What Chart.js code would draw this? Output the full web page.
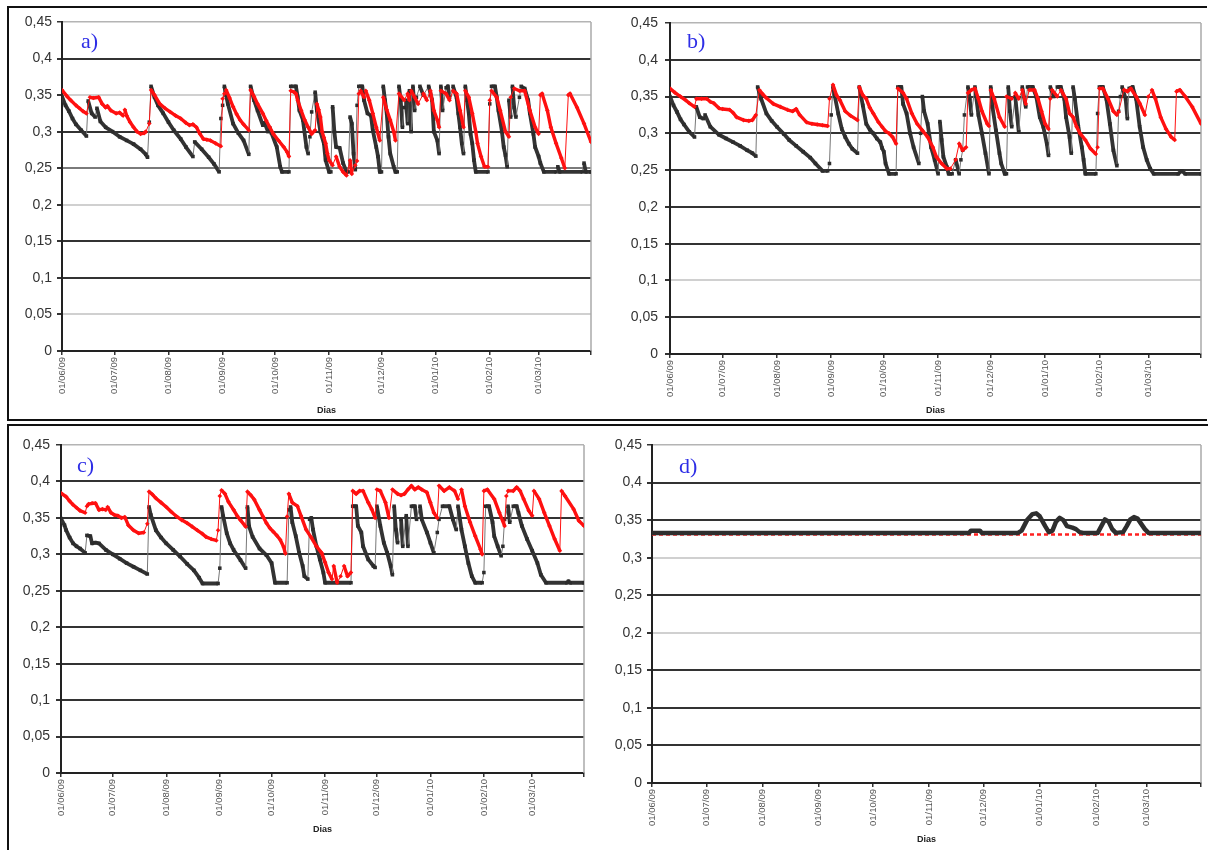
<!DOCTYPE html>
<html>
<head>
<meta charset="utf-8">
<script src="https://cdn.jsdelivr.net/npm/chart.js@4.4.0/dist/chart.umd.min.js"></script>
<style>
  body { margin: 0; background: #fff; width: 1208px; height: 850px; position: relative; overflow: hidden; }
  .frame { position: absolute; border: 0 solid #111; }
  canvas { position: absolute; }
  .tag { position: absolute; font-family: 'Liberation Serif', 'Times New Roman', serif; font-size: 22px; line-height: 1; color: #2e2ee6; }
</style>
</head>
<body>
<div class="frame" style="left:7px;top:6px;width:1198px;height:411px;border-width:2px 0 2px 2px"></div>
<div class="frame" style="left:7px;top:424px;width:1201px;height:430px;border-width:2px 0 0 2px"></div>

<canvas id="chartA" width="590" height="409" style="left:10px;top:9px"></canvas>
<canvas id="chartB" width="603" height="409" style="left:602px;top:9px"></canvas>
<canvas id="chartC" width="590" height="421" style="left:10px;top:427px"></canvas>
<canvas id="chartD" width="603" height="421" style="left:602px;top:427px"></canvas>

<div class="tag" style="left:81px;top:30px">a)</div>
<div class="tag" style="left:687px;top:30px">b)</div>
<div class="tag" style="left:77px;top:454px">c)</div>
<div class="tag" style="left:679px;top:455px">d)</div>

<script>
// days counted from 01/06/09, last day 31/03/10
const monthLabels = ['01/06/09', '01/07/09', '01/08/09', '01/09/09', '01/10/09', '01/11/09', '01/12/09', '01/01/10', '01/02/10', '01/03/10'];
const monthStart = [0, 30, 61, 92, 122, 153, 183, 214, 245, 273];
const lastDay = 303;
const yTicks = [0, 0.05, 0.1, 0.15, 0.2, 0.25, 0.3, 0.35, 0.4, 0.45];

// [day, value]
const aBlack = [[0,.348],[2,.336],[4,.328],[6,.318],[8,.31],[11,.302],[14,.294],[15,.342],[17,.325],[19,.32],[20,.332],[22,.314],[25,.306],[29,.3],[33,.293],[37,.288],[41,.283],[45,.276],[48,.269],[49,.265],[50,.313],[51,.362],[53,.347],[55,.336],[58,.325],[61,.313],[64,.302],[68,.29],[71,.279],[75,.266],[76,.286],[80,.276],[84,.265],[87,.256],[90,.245],[91,.318],[92,.336],[93,.362],[94,.35],[95,.338],[98,.311],[101,.298],[104,.288],[107,.269],[108,.362],[110,.343],[112,.329],[115,.309],[116,.312],[118,.3],[119,.305],[120,.298],[123,.279],[125,.252],[126,.245],[130,.245],[131,.362],[134,.362],[135,.347],[136,.329],[138,.316],[140,.279],[141,.27],[142,.293],[143,.327],[145,.354],[146,.329],[148,.3],[150,.284],[151,.261],[153,.245],[154,.245],[155,.334],[156,.3],[157,.279],[159,.278],[161,.257],[163,.245],[164,.245],[165,.32],[166,.311],[167,.27],[168,.248],[169,.336],[170,.362],[172,.362],[173,.343],[175,.325],[177,.322],[178,.302],[180,.279],[181,.266],[182,.245],[183,.245],[184,.362],[185,.343],[186,.325],[187,.293],[188,.27],[190,.252],[191,.245],[192,.245],[193,.362],[194,.343],[195,.306],[196,.333],[197,.343],[198,.311],[199,.356],[200,.3],[201,.362],[202,.329],[203,.347],[205,.362],[207,.35],[210,.362],[212,.343],[213,.3],[215,.288],[216,.27],[217,.362],[218,.329],[220,.36],[221,.362],[222,.347],[224,.362],[226,.347],[227,.325],[228,.306],[229,.284],[230,.27],[231,.362],[232,.343],[233,.325],[234,.297],[235,.284],[236,.261],[237,.245],[244,.245],[245,.338],[246,.362],[248,.362],[249,.347],[250,.329],[252,.3],[253,.279],[254,.268],[255,.252],[256,.343],[257,.32],[258,.362],[259,.333],[260,.32],[262,.347],[263,.362],[265,.359],[267,.343],[268,.325],[270,.297],[271,.279],[273,.266],[274,.257],[276,.245],[283,.245],[284,.252],[285,.245],[298,.245],[299,.257],[300,.245],[303,.245]];
const aRed = [[0,.357],[3,.348],[5,.343],[8,.336],[10,.332],[12,.328],[14,.325],[16,.347],[18,.346],[21,.347],[23,.338],[25,.333],[26,.335],[28,.329],[31,.325],[33,.326],[35,.322],[36,.33],[37,.322],[39,.313],[41,.306],[43,.3],[45,.297],[47,.298],[48,.3],[50,.311],[51,.357],[53,.35],[56,.338],[59,.332],[62,.327],[65,.322],[68,.318],[71,.312],[73,.309],[75,.31],[77,.306],[79,.297],[81,.29],[83,.289],[85,.288],[88,.284],[91,.28],[92,.345],[93,.352],[94,.357],[96,.346],[98,.334],[100,.324],[102,.316],[104,.31],[107,.302],[108,.357],[110,.348],[112,.338],[115,.325],[117,.315],[119,.306],[121,.297],[124,.288],[127,.279],[129,.272],[130,.266],[131,.356],[133,.354],[134,.352],[135,.343],[137,.329],[139,.316],[141,.306],[143,.297],[145,.302],[146,.338],[147,.33],[148,.32],[149,.3],[150,.292],[151,.284],[152,.27],[153,.261],[155,.254],[157,.266],[159,.252],[161,.245],[163,.24],[165,.261],[166,.242],[168,.254],[169,.26],[170,.352],[171,.356],[173,.347],[174,.356],[176,.343],[178,.325],[180,.306],[182,.288],[184,.347],[186,.33],[188,.316],[190,.3],[191,.288],[193,.352],[196,.343],[198,.352],[199,.343],[200,.356],[202,.347],[204,.338],[207,.352],[209,.343],[211,.356],[213,.329],[215,.316],[216,.306],[217,.356],[220,.352],[222,.343],[224,.356],[226,.352],[228,.329],[230,.306],[231,.356],[233,.347],[235,.325],[237,.3],[238,.284],[240,.266],[242,.252],[244,.252],[245,.343],[246,.356],[249,.347],[251,.329],[254,.3],[256,.293],[257,.347],[259,.359],[262,.356],[265,.356],[268,.329],[271,.306],[273,.297],[274,.35],[275,.352],[278,.329],[280,.306],[283,.284],[286,.264],[288,.25],[290,.35],[291,.352],[295,.333],[299,.311],[303,.286]];

const bBlack = [[0,.35],[2,.338],[4,.329],[6,.319],[8,.312],[11,.302],[14,.295],[15,.336],[17,.322],[19,.32],[20,.325],[23,.309],[28,.298],[32,.293],[36,.288],[40,.283],[44,.277],[47,.273],[49,.269],[50,.363],[52,.347],[55,.327],[58,.317],[61,.309],[65,.299],[68,.291],[72,.283],[76,.275],[80,.267],[83,.259],[87,.249],[90,.249],[91,.259],[92,.325],[93,.363],[94,.351],[96,.327],[98,.306],[100,.295],[102,.286],[104,.279],[107,.273],[108,.363],[109,.351],[110,.338],[112,.313],[114,.305],[116,.3],[118,.293],[120,.288],[121,.28],[122,.275],[123,.259],[125,.245],[129,.245],[130,.363],[132,.363],[133,.34],[135,.327],[137,.3],[139,.281],[142,.259],[143,.3],[144,.35],[145,.33],[147,.313],[149,.281],[151,.264],[153,.245],[154,.316],[155,.291],[156,.268],[158,.254],[159,.245],[161,.245],[163,.264],[165,.245],[166,.264],[167,.277],[168,.325],[170,.363],[171,.347],[172,.325],[174,.363],[176,.325],[178,.3],[180,.273],[182,.245],[183,.363],[184,.336],[186,.304],[188,.273],[189,.259],[191,.245],[192,.245],[193,.363],[194,.33],[195,.309],[197,.35],[199,.302],[201,.363],[203,.336],[204,.363],[207,.363],[209,.35],[211,.322],[213,.309],[215,.286],[216,.27],[217,.363],[219,.35],[221,.363],[223,.363],[225,.347],[226,.322],[228,.295],[229,.273],[230,.363],[231,.347],[233,.309],[235,.281],[236,.264],[237,.245],[243,.245],[244,.327],[245,.363],[247,.363],[249,.347],[251,.313],[253,.277],[255,.256],[256,.33],[257,.35],[258,.363],[260,.347],[261,.32],[262,.361],[264,.363],[266,.347],[268,.309],[270,.281],[272,.264],[274,.252],[276,.245],[290,.245],[292,.249],[294,.245],[303,.245]];
const bRed = [[0,.361],[3,.355],[6,.35],[9,.345],[11,.341],[14,.336],[15,.347],[18,.347],[21,.347],[23,.343],[25,.341],[28,.334],[30,.333],[34,.332],[36,.328],[38,.322],[42,.318],[45,.317],[47,.318],[49,.325],[51,.359],[53,.353],[55,.348],[59,.34],[63,.336],[67,.332],[70,.33],[72,.333],[74,.325],[78,.315],[81,.313],[84,.312],[87,.311],[90,.31],[91,.347],[93,.366],[95,.352],[97,.345],[100,.33],[103,.324],[107,.318],[108,.363],[110,.352],[112,.347],[114,.335],[116,.327],[119,.315],[121,.309],[123,.303],[125,.3],[127,.295],[129,.286],[130,.361],[133,.355],[135,.347],[138,.327],[141,.313],[144,.304],[147,.295],[150,.281],[152,.268],[155,.259],[158,.252],[160,.252],[163,.264],[165,.286],[167,.277],[169,.281],[170,.355],[172,.359],[174,.361],[176,.347],[178,.33],[181,.313],[182,.31],[183,.359],[185,.347],[188,.322],[191,.309],[192,.35],[195,.347],[197,.355],[199,.347],[201,.359],[203,.34],[205,.359],[208,.359],[210,.347],[212,.33],[214,.313],[216,.306],[217,.347],[218,.359],[221,.35],[223,.359],[226,.347],[228,.327],[230,.322],[232,.309],[234,.3],[237,.291],[240,.279],[243,.272],[244,.281],[245,.361],[247,.361],[250,.347],[253,.33],[255,.325],[256,.329],[259,.359],[261,.357],[263,.361],[266,.35],[268,.341],[271,.325],[273,.35],[275,.359],[277,.347],[280,.322],[283,.306],[286,.295],[288,.291],[289,.357],[291,.359],[294,.35],[298,.336],[303,.313]];

const cBlack = [[0,.349],[2,.34],[3,.333],[5,.323],[7,.315],[9,.311],[11,.308],[14,.302],[15,.326],[17,.325],[18,.315],[20,.316],[22,.315],[26,.306],[30,.3],[34,.294],[38,.288],[42,.283],[46,.278],[50,.273],[51,.365],[52,.354],[55,.333],[58,.323],[61,.315],[65,.306],[69,.297],[73,.287],[77,.278],[80,.268],[82,.26],[91,.26],[92,.281],[93,.365],[94,.352],[96,.329],[98,.315],[100,.306],[104,.292],[107,.281],[108,.365],[109,.338],[111,.324],[115,.308],[119,.299],[122,.288],[124,.261],[131,.261],[132,.361],[133,.365],[134,.344],[136,.325],[138,.302],[140,.284],[141,.27],[143,.266],[144,.348],[145,.35],[146,.334],[148,.311],[150,.293],[152,.275],[153,.261],[168,.261],[169,.366],[171,.366],[172,.339],[174,.33],[175,.311],[178,.293],[181,.284],[182,.282],[183,.366],[185,.339],[187,.316],[189,.302],[191,.284],[192,.272],[193,.366],[194,.334],[195,.316],[197,.348],[198,.311],[200,.353],[201,.311],[203,.366],[205,.366],[206,.348],[208,.366],[209,.348],[212,.33],[214,.316],[216,.302],[218,.33],[219,.348],[221,.366],[225,.366],[227,.348],[229,.334],[230,.366],[232,.334],[234,.311],[236,.288],[238,.27],[240,.261],[244,.261],[245,.275],[246,.366],[248,.366],[250,.344],[251,.325],[253,.311],[255,.298],[256,.311],[257,.348],[259,.366],[260,.344],[262,.366],[264,.366],[265,.357],[267,.339],[270,.321],[273,.305],[276,.288],[278,.272],[281,.261],[293,.261],[294,.263],[295,.261],[303,.261]];
const cRed = [[0,.384],[3,.379],[5,.373],[7,.368],[9,.364],[11,.36],[14,.357],[15,.366],[16,.369],[18,.37],[20,.37],[22,.361],[24,.362],[26,.361],[27,.365],[29,.357],[31,.354],[33,.353],[35,.35],[37,.351],[39,.34],[42,.333],[45,.329],[48,.33],[50,.342],[51,.386],[53,.382],[55,.377],[58,.371],[61,.365],[64,.358],[67,.352],[70,.347],[73,.343],[76,.338],[79,.333],[82,.328],[84,.324],[87,.321],[90,.319],[91,.333],[92,.38],[93,.388],[95,.383],[97,.372],[100,.361],[102,.353],[104,.347],[107,.338],[108,.386],[110,.381],[112,.375],[115,.361],[117,.352],[119,.343],[121,.336],[123,.331],[125,.326],[127,.32],[129,.31],[130,.301],[131,.352],[132,.383],[134,.371],[137,.366],[139,.353],[142,.334],[145,.323],[148,.311],[151,.302],[153,.289],[155,.275],[157,.266],[158,.284],[160,.261],[162,.27],[164,.284],[166,.27],[168,.275],[169,.387],[171,.383],[173,.387],[175,.387],[178,.371],[180,.362],[182,.35],[183,.389],[185,.387],[188,.371],[190,.35],[192,.389],[195,.383],[197,.381],[199,.383],[201,.389],[203,.394],[205,.389],[207,.392],[209,.389],[212,.385],[214,.371],[216,.357],[218,.35],[219,.394],[222,.387],[225,.392],[228,.387],[230,.376],[232,.389],[234,.366],[237,.344],[240,.325],[243,.307],[244,.3],[245,.387],[247,.389],[251,.376],[254,.357],[257,.339],[258,.38],[259,.387],[262,.387],[264,.392],[266,.387],[268,.376],[271,.36],[273,.353],[274,.387],[277,.376],[280,.357],[283,.339],[286,.321],[289,.305],[290,.387],[292,.38],[297,.362],[300,.346],[303,.339]];

const dBlack = [[0,.333],[175,.333],[176,.336],[181,.336],[182,.333],[202,.333],[204,.336],[207,.35],[210,.358],[212,.359],[214,.355],[217,.342],[219,.334],[221,.336],[223,.348],[225,.353],[227,.35],[229,.342],[232,.34],[234,.338],[236,.334],[238,.333],[246,.333],[248,.342],[250,.351],[252,.348],[254,.338],[256,.333],[260,.334],[262,.342],[264,.351],[266,.354],[268,.352],[270,.345],[272,.338],[274,.333],[303,.333]];
const dRed = [[0,.331],[303,.331]];

Chart.defaults.font.family = "'Liberation Sans', Arial, sans-serif";

const toPoints = arr => arr.map(([x, y]) => ({ x, y }));

// rising jumps are drawn thin, the dense marker runs thick
const byRise = (thin, thick) => ctx => {
    const slope = (ctx.p1.parsed.y - ctx.p0.parsed.y) / (ctx.p1.parsed.x - ctx.p0.parsed.x);
    return slope > 0.004 ? thin : thick;
};

const plotFrame = {
    id: 'plotFrame',
    beforeDatasetsDraw(chart) {
        const { ctx, chartArea: a } = chart;
        ctx.save();
        ctx.strokeStyle = '#aaa';
        ctx.lineWidth = 1.5;
        ctx.beginPath();
        ctx.moveTo(a.right, a.top);
        ctx.lineTo(a.right, a.bottom);
        ctx.stroke();
        ctx.restore();
    }
};

function markerSets(black, red) {
    return [{
        data: toPoints(red),
        borderColor: '#ff1010',
        backgroundColor: '#ff1010',
        pointStyle: 'rectRot',
        pointRadius: 2.3,
        pointBorderWidth: 0,
        segment: { borderWidth: byRise(1, 3.4) }
    }, {
        data: toPoints(black),
        borderColor: '#555',
        backgroundColor: '#2c2c2c',
        pointStyle: 'rect',
        pointRadius: 2.5,
        pointBorderWidth: 0,
        segment: { borderWidth: byRise(1, 3.8), borderColor: byRise('#777', '#333') }
    }];
}

function flatSets(black, red) {
    return [{
        data: toPoints(black),
        borderColor: '#2e2e2e',
        borderWidth: 4.5,
        pointRadius: 0
    }, {
        data: toPoints(red),
        borderColor: '#ff2020',
        borderWidth: 2.5,
        borderDash: [4, 3],
        pointRadius: 0
    }];
}

const panels = [
    { id: 'chartA', sets: markerSets(aBlack, aRed), yWidth: 52, xHeight: 67, pad: { top: 13, right: 9, bottom: 0, left: 0 }, labelPad: 5, light: [0.05, 0.2, 0.35], mid: [0.25] },
    { id: 'chartB', sets: markerSets(bBlack, bRed), yWidth: 68, xHeight: 64, pad: { top: 14, right: 2, bottom: 0, left: 0 }, labelPad: 7, light: [0.1], mid: [] },
    { id: 'chartC', sets: markerSets(cBlack, cRed), yWidth: 51, xHeight: 64, pad: { top: 18, right: 16, bottom: 11, left: 0 }, labelPad: 6, light: [], mid: [] },
    { id: 'chartD', sets: flatSets(dBlack, dRed), yWidth: 50, xHeight: 64, pad: { top: 18, right: 4, bottom: 1, left: 0 }, labelPad: 5, light: [0.2, 0.3], mid: [] }
];

function gridShade(p, value) {
    const v = Math.round(value * 100) / 100;
    if (v === 0.45) return '#b4b4b4';
    if (p.light.includes(v)) return '#d0d0d0';
    if (p.mid.includes(v)) return '#7a7a7a';
    return '#333';
}

panels.forEach(p => {
    new Chart(document.getElementById(p.id), {
        type: 'line',
        data: { datasets: p.sets },
        options: {
            responsive: false,
            animation: false,
            devicePixelRatio: 1,
            events: [],
            layout: { padding: p.pad },
            elements: { line: { tension: 0, borderJoinStyle: 'round' } },
            plugins: { legend: { display: false }, tooltip: { enabled: false } },
            scales: {
                x: {
                    type: 'linear',
                    min: 0,
                    max: lastDay,
                    afterBuildTicks: s => { s.ticks = monthStart.concat([lastDay]).map(v => ({ value: v })); },
                    afterFit: s => {
                        s.height = p.xHeight;
                        s.paddingLeft = 0;
                        s.paddingRight = 0;
                    },
                    ticks: {
                        autoSkip: false,
                        minRotation: 90,
                        maxRotation: 90,
                        padding: 2,
                        color: '#555',
                        font: { size: 9.5 },
                        callback: v => {
                            const i = monthStart.indexOf(v);
                            return i < 0 ? '' : monthLabels[i];
                        }
                    },
                    grid: { drawOnChartArea: false, tickLength: 4, color: '#333', lineWidth: 1.5 },
                    border: { color: '#222', width: 2 },
                    title: { display: true, text: 'Dias', color: '#222', font: { size: 9, weight: 'bold' }, padding: { top: 0, bottom: 2 } }
                },
                y: {
                    min: 0,
                    max: 0.45,
                    afterBuildTicks: s => { s.ticks = yTicks.map(v => ({ value: v })); },
                    afterFit: s => {
                        s.width = p.yWidth;
                        s.paddingTop = 0;
                        s.paddingBottom = 0;
                    },
                    ticks: {
                        color: '#333',
                        font: { size: 14 },
                        padding: p.labelPad,
                        callback: v => String(Math.round(v * 100) / 100).replace('.', ',')
                    },
                    grid: {
                        color: ctx => gridShade(p, ctx.tick.value),
                        lineWidth: ctx => (Math.round(ctx.tick.value * 100) === 45 ? 1.5 : 2),
                        tickColor: '#333',
                        tickLength: 5
                    },
                    border: { color: '#222', width: 2 }
                }
            }
        },
        plugins: [plotFrame]
    });
});
</script>
</body>
</html>
